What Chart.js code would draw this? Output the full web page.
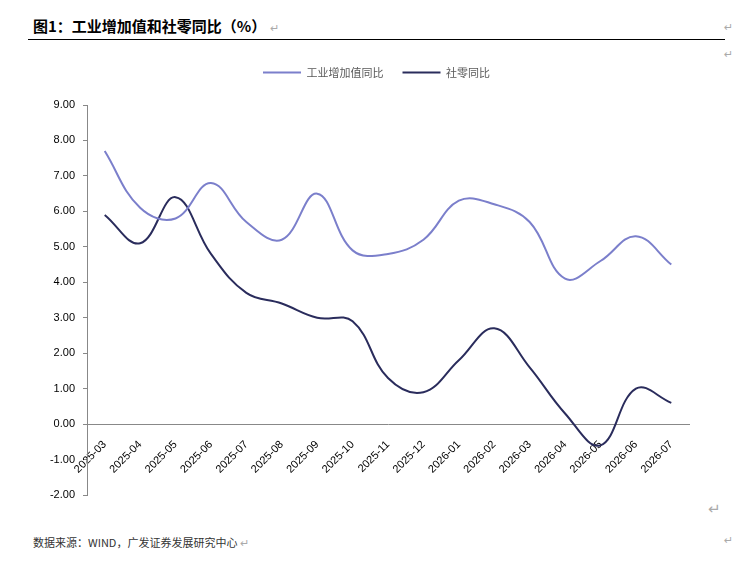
<!DOCTYPE html>
<html>
<head>
<meta charset="utf-8">
<script src="https://cdn.jsdelivr.net/npm/chart.js@4"></script>
<style>
  body { margin: 0; width: 734px; height: 561px; background: #fff; position: relative; overflow: hidden;
         font-family: "Liberation Sans", "Noto Sans CJK SC", sans-serif; }
  #title { position: absolute; left: 33px; top: 15px; font-size: 15px; font-weight: 700; color: #000;
           font-family: "Noto Sans CJK SC", sans-serif; }
  #rule { position: absolute; left: 28px; top: 39px; width: 697px; height: 0; border-top: 1px solid #000; }
  #source { position: absolute; left: 33px; top: 534px; font-size: 11px; color: #333;
            font-family: "Noto Sans CJK SC", sans-serif; }
  .mark { color: #aaa; font-weight: 400; font-size: 11px; }
  .pm { position: absolute; color: #aaa; font-size: 11px; font-family: "DejaVu Sans", sans-serif; }
  #wrap { position: absolute; left: 0; top: 38px; width: 734px; height: 472px; }
</style>
</head>
<body>
<div id="title">图1：工业增加值和社零同比（%） <span class="mark">↵</span></div>
<div id="rule"></div>
<span class="pm" style="left:724px;top:21px">↵</span>
<span class="pm" style="left:724px;top:48px">↵</span>
<span class="pm" style="left:708px;top:500px;font-size:15px">↵</span>
<span class="pm" style="left:724px;top:534px">↵</span>
<div id="source">数据来源：WIND，广发证券发展研究中心 <span class="mark">↵</span></div>
<div id="wrap"><canvas id="chart"></canvas></div>
<script>
// 月份
const months = ["2025-03", "2025-04", "2025-05", "2025-06", "2025-07", "2025-08", "2025-09", "2025-10",
  "2025-11", "2025-12", "2026-01", "2026-02", "2026-03", "2026-04", "2026-05", "2026-06", "2026-07"];

// 工业增加值同比
const industry = [7.7, 6.1, 5.8, 6.8, 5.7, 5.2, 6.5, 4.9, 4.8, 5.2, 6.3, 6.2, 5.7, 4.1, 4.6, 5.3, 4.5];

// 社零同比
const retail = [5.9, 5.1, 6.4, 4.8, 3.7, 3.4, 3.0, 2.9, 1.3, 0.9, 1.8, 2.7, 1.6, 0.3, -0.6, 1.0, 0.6];

const yMin = -2, yMax = 9;

// push the plot below the legend, and centre the legend over the plot
const legendTweak = {
  id: "legendTweak",
  beforeInit(chart) {
    const fit = chart.legend.fit;
    chart.legend.fit = function () {
      fit.bind(chart.legend)();
      this.height += 17;
    };
  },
  afterLayout(chart) {
    chart.legend.left += 32;
    chart.legend.right += 32;
  }
};

Chart.defaults.font.family = '"Liberation Sans", "Noto Sans CJK SC", sans-serif';
Chart.defaults.font.size = 11;
Chart.defaults.color = "#000";

new Chart(document.getElementById("chart"), {
  type: "line",
  data: {
    labels: months,
    datasets: [{
      label: "工业增加值同比",
      data: industry,
      borderColor: "#7b7fcb",
      backgroundColor: "#7b7fcb",
      borderWidth: 2,
      pointRadius: 0,
      tension: 0.4
    }, {
      label: "社零同比",
      data: retail,
      borderColor: "#2a2c5c",
      backgroundColor: "#2a2c5c",
      borderWidth: 2,
      pointRadius: 0,
      tension: 0.4
    }]
  },
  options: {
    responsive: true,
    maintainAspectRatio: false,
    animation: false,
    layout: { padding: { left: 0, right: 45, top: 10, bottom: 15 } },
    plugins: {
      legend: {
        position: "top",
        labels: {
          usePointStyle: true,
          pointStyle: "line",
          pointStyleWidth: 38,
          boxHeight: 11,
          padding: 19,
          color: "#595959",
          font: { size: 11, family: '"Noto Sans CJK SC", sans-serif' }
        }
      },
      tooltip: { enabled: false }
    },
    scales: {
      x: {
        position: { y: 0 },
        offset: true,
        grid: { display: false },
        border: { display: true, color: "#888", width: 1 },
        ticks: { maxRotation: 45, minRotation: 45, padding: 6, color: "#000", font: { size: 11 } }
      },
      y: {
        min: yMin,
        max: yMax,
        afterFit(scale) { scale.width = 87; },
        grid: { drawOnChartArea: false, tickLength: 4, color: "#888" },
        border: { color: "#888", width: 1 },
        ticks: { stepSize: 1, padding: 8, color: "#000", callback: v => v.toFixed(2) }
      }
    }
  },
  plugins: [legendTweak]
});
</script>
</body>
</html>
